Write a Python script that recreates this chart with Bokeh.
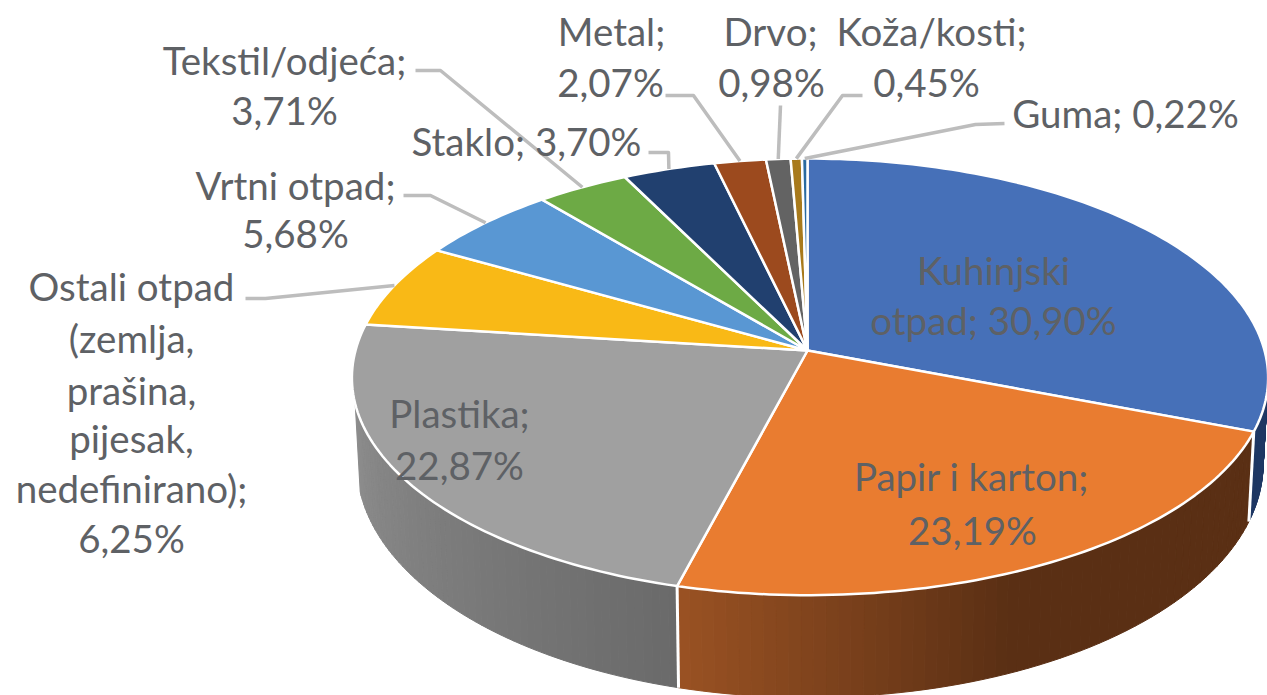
import math
from bokeh.plotting import figure
from bokeh.models import ColumnDataSource
from bokeh.core.properties import value
from bokeh.embed import file_html
from bokeh.resources import INLINE

# ---------- data ----------
categories = ["Kuhinjski otpad", "Papir i karton", "Plastika", "Ostali otpad", "Vrtni otpad",
              "Tekstil/odjeća", "Staklo", "Metal", "Drvo", "Koža/kosti", "Guma"]
shares = [30.90, 23.19, 22.87, 6.25, 5.68, 3.71, 3.70, 2.07, 0.98, 0.45, 0.22]

# ---------- style ----------
top_colors = ["#4670b8", "#e97c30", "#a0a0a0", "#f9b916", "#5997d3", "#6daa45",
              "#21406f", "#9c4a1e", "#636363", "#a87a1c", "#2a6aa0"]
TEXT = "#5e6165"
LEADER = "#bdbdbd"
FONT = "Lato"
FS = "38.5px"

# label lines: (text, x centre, y centre)  -- page pixels
labels = [
    ("Kuhinjski", 993, 269), ("otpad; 30,90%", 993, 319),
    ("Papir i karton;", 971, 475), ("23,19%", 972, 529),
    ("Plastika;", 459, 412), ("22,87%", 459, 464),
    ("Ostali otpad", 131, 285), ("(zemlja,", 131, 337), ("prašina,", 131, 389),
    ("pijesak,", 131, 437), ("nedefinirano);", 131, 487), ("6,25%", 131, 537),
    ("Vrtni otpad;", 295, 184), ("5,68%", 295, 232),
    ("Tekstil/odjeća;", 284, 59), ("3,71%", 284, 109),
    ("Staklo; 3,70%", 526, 140),
    ("Metal;", 611, 30), ("2,07%", 610, 81),
    ("Drvo;", 770, 30), ("0,98%", 771, 81),
    ("Koža/kosti;", 931, 30), ("0,45%", 926, 81),
    ("Guma; 0,22%", 1125, 112),
]
# leader elbows per slice index
leaders = {
    3: [(245, 298), (265, 298)],
    4: [(403, 195), (430, 195)],
    5: [(415, 70), (440, 70)],
    6: [(648, 152), (668, 152)],
    7: [(665, 95), (693, 95)],
    8: [(780, 105)],
    9: [(862, 95), (842, 95)],
    10: [(1004, 123), (975, 124)],
}

# ---------- projection ----------
CX, CY, B, K = 807, 350, 216, 0.1254
A_R, A_L = 457, 452        # top rim half-widths right / left of the hub
A2_R, A2_L = 452, 447      # bottom rim half-widths
B_F = 214                  # top rim depth in front of the hub
B2, D = 230, 84


def top_pt(t):
    u, v = math.sin(t), math.cos(t)
    w = 1 + K * v
    a = A_R if u > 0 else A_L
    b = B if v > 0 else B_F
    return CX + a * u / w, CY - b * v / w


def bot_pt(t):
    u, v = math.sin(t), math.cos(t)
    w = 1 + K * v
    a = A2_R if u > 0 else A2_L
    return CX + a * u / w, CY + D - B2 * v / w


total = sum(shares)
edges = [0.0]
for s in shares:
    edges.append(edges[-1] + s / total * 2 * math.pi)


def lerp(a, b, f):
    return a + (b - a) * f


def mix(c1, c2, f):
    return "#%02x%02x%02x" % tuple(round(lerp(a, b, f)) for a, b in zip(c1, c2))


p = figure(width=1267, height=695, x_range=(0, 1267), y_range=(695, 0),
           output_backend="svg", toolbar_location=None, min_border=0,
           outline_line_color=None, background_fill_color="white", border_fill_color="white")
p.axis.visible = False
p.grid.visible = False

# ---------- side wall ----------
wall_spans = [
    (0, math.radians(93), edges[1], (31, 56, 100), (31, 56, 100)),
    (1, edges[1], edges[2], (90, 47, 20), (154, 82, 35)),
    (2, edges[2], math.radians(256), (106, 106, 106), (140, 140, 140)),
]
wx, wy, wc = [], [], []
for idx, a0, a1, c0, c1 in wall_spans:
    n = 60
    for i in range(n):
        ta, tb = lerp(a0, a1, i / n), lerp(a0, a1, (i + 1) / n)
        f = (i + .5) / n
        if idx == 1:
            f = max(0.0, (f - 0.55) / 0.45)
        pa, pb = top_pt(ta), top_pt(tb)
        qa, qb = bot_pt(ta), bot_pt(tb)
        wx.append([pa[0], pb[0], qb[0], qa[0]])
        wy.append([pa[1], pb[1], qb[1], qa[1]])
        wc.append(mix(c0, c1, f))
p.patches(wx, wy, fill_color=wc, line_color=wc, line_width=1)

# white vertical seams at slice boundaries on the wall
for e in (edges[1], edges[2]):
    a, b = top_pt(e), bot_pt(e)
    p.line([a[0], b[0]], [a[1], b[1]], line_color="white", line_width=3)

# ---------- top faces ----------
xs, ys = [], []
for a0, a1 in zip(edges[:-1], edges[1:]):
    n = max(4, int((a1 - a0) / 0.02))
    rim = [top_pt(lerp(a0, a1, i / n)) for i in range(n + 1)]
    xs.append([CX] + [r[0] for r in rim])
    ys.append([CY] + [r[1] for r in rim])
p.patches(xs, ys, fill_color=top_colors, line_color="white", line_width=2.5, line_join="round")

# ---------- leaders ----------
for idx, pts in leaders.items():
    end = top_pt((edges[idx] + edges[idx + 1]) / 2)
    lx = [q[0] for q in pts] + [end[0]]
    ly = [q[1] for q in pts] + [end[1]]
    p.line(lx, ly, line_color=LEADER, line_width=3.5, line_join="round")

# ---------- labels ----------
src = ColumnDataSource(dict(t=[l[0] for l in labels], x=[l[1] for l in labels], y=[l[2] for l in labels]))
p.text("x", "y", text="t", source=src, text_font=value(FONT), text_font_size=value(FS),
       text_color=TEXT, text_align="center", text_baseline="middle")

open("out.html", "w").write(file_html(p, INLINE))
